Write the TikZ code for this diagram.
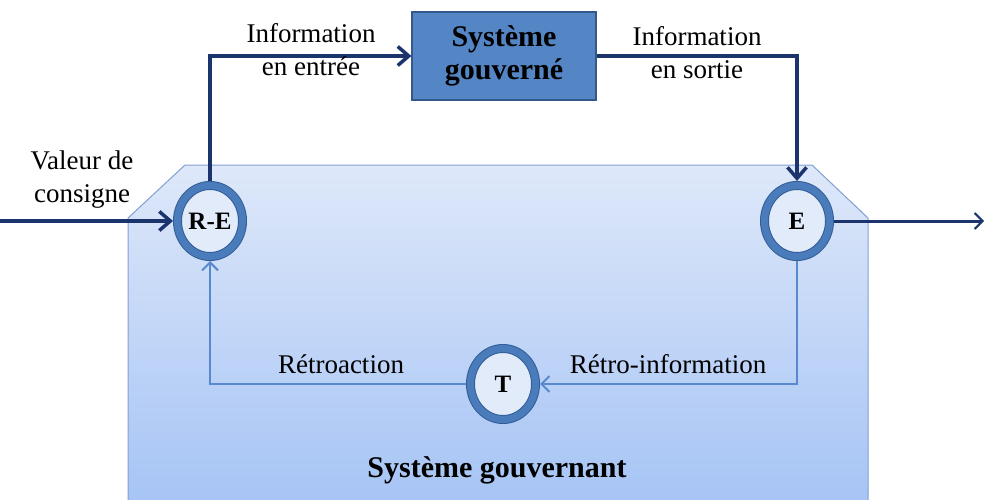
\documentclass[tikz,border=0pt]{standalone}
\usepackage{fontspec}
\setmainfont{Liberation Serif}
\usetikzlibrary{arrows.meta,shapes.geometric}

\definecolor{darkline}{RGB}{28,52,110}
\definecolor{ringblue}{RGB}{74,124,187}
\definecolor{ringedge}{RGB}{50,92,150}
\definecolor{ringfill}{RGB}{226,235,250}
\definecolor{govfill}{RGB}{84,133,197}
\definecolor{govdraw}{RGB}{52,88,140}
\definecolor{feedline}{RGB}{88,136,205}
\definecolor{boxtop}{RGB}{222,232,249}
\definecolor{boxbottom}{RGB}{166,196,245}
\definecolor{boxedge}{RGB}{130,160,210}

\begin{document}
\begin{tikzpicture}[x=1pt, y=-1pt,
    every node/.style={align=center, font=\fontsize{27}{33}\selectfont},
    ring/.style={ellipse, draw=ringedge, line width=1pt, double=ringblue,
      double distance=7pt, fill=ringfill,
      minimum width=65pt, minimum height=71pt, inner sep=0pt, outer sep=4.5pt,
      font=\fontsize{25}{28}\selectfont\bfseries},
    govbox/.style={rectangle, draw=govdraw, line width=1.2pt, fill=govfill,
      minimum width=184pt, minimum height=88pt,
      font=\fontsize{30}{33}\selectfont\bfseries},
    mainline/.style={darkline, line width=3.5pt,
      -{Straight Barb[length=11pt, width=19pt, line width=3.5pt]}},
    outline/.style={darkline, line width=3pt,
      -{Straight Barb[length=8pt, width=16pt, line width=2pt]}},
    fbline/.style={feedline, line width=2.6pt,
      -{Straight Barb[length=8pt, width=16pt, line width=2pt]}}]
    \useasboundingbox (0,0) rectangle (984,500);

    % systeme gouvernant
    \shade[top color=boxtop, bottom color=boxbottom]
      (128,218) -- (185,165) -- (812,165) -- (868,218) -- (868,500) -- (128,500) -- cycle;
    \draw[boxedge, line width=1pt]
      (128,500) -- (128,218) -- (185,165) -- (812,165) -- (868,218) -- (868,500);

    \node[ring] at (210,221) (re) {R-E};
    \node[ring] at (797,221) (e) {E};
    \node[ring] at (503,384) (t) {T};
    \node[govbox] at (504,56) (gov) {Système\\gouverné};

    \coordinate (in) at (0,221);
    \coordinate (out) at (984,221);

    \draw[mainline] (in) -- (re);
    \draw[mainline] (re) |- (gov);
    \draw[mainline] (gov) -| (e);
    \draw[outline] (e) -- (out);
    \draw[fbline] (e) |- (t);
    \draw[fbline] (t) -| (re);

    \node at (311,50) (lblin) {Information\\en entrée};
    \node at (697,53) (lblout) {Information\\en sortie};
    \node at (82,180) (lblset) {Valeur de\\consigne};
    \node[anchor=base] at (341,373) (lblretro) {Rétroaction};
    \node[anchor=base] at (668,373) (lblinfo) {Rétro-information};
    \node[anchor=base, font=\fontsize{30}{33}\selectfont\bfseries] at (497,477) (lblgov) {Système gouvernant};
\end{tikzpicture}
\end{document}
